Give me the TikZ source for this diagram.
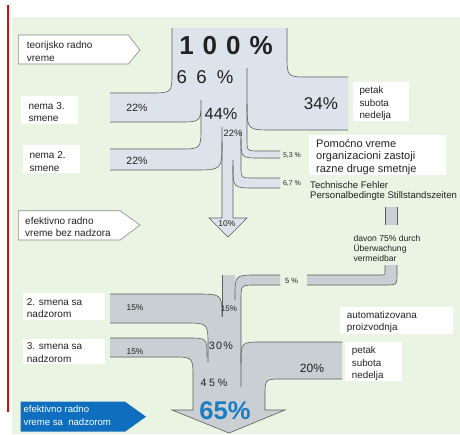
\documentclass[tikz,border=0pt]{standalone}
\usepackage{fontspec}
\setmainfont{Liberation Sans}
\definecolor{bggreen}{HTML}{E9F4E2}
\definecolor{lightflow}{HTML}{DDE3EB}
\definecolor{grayflow}{HTML}{C9CFD2}
\definecolor{edgecol}{HTML}{5A5F5F}
\definecolor{txt}{HTML}{222222}
\definecolor{bluebox}{HTML}{0F6FBE}
\definecolor{bluetxt}{HTML}{1C7CC4}
\definecolor{redline}{HTML}{D01010}
\definecolor{tagline}{HTML}{8A8A8A}
\tikzset{
  edge/.style={draw=edgecol, line width=0.6pt},
  lbl/.style={inner sep=0pt, text=txt, align=left, anchor=west, font=\fontsize{10}{12.4}\selectfont},
  pct/.style={inner sep=0pt, text=txt},
  wbox/.style={fill=white},
  tag/.style={draw=tagline, fill=white, line width=0.6pt},
}
\begin{document}
\begin{tikzpicture}[x=1pt,y=-1pt]
\useasboundingbox (0,0) rectangle (460,434);
\fill[white] (0,0) rectangle (460,434);
\fill[bggreen] (12,17) rectangle (460,434);
\draw[redline, line width=2pt] (8,5) -- (8,412);

% ---------- upper flow ----------
\fill[lightflow] (172,28) -- (287,28) -- (287,55) .. controls (287,77) .. (309,77) -- (348,77) -- (348,130) -- (273,130) .. controls (247,130) .. (247,104) -- (247,139) .. controls (247,151) .. (259,151) -- (280,151) -- (280,158) -- (260,158) .. controls (241,158) .. (241,139) -- (241,166) .. controls (241,178) .. (253,178) -- (280,178) -- (280,188) -- (255,188) .. controls (233,188) .. (233,166) -- (233,218) -- (247,218) -- (228,237) -- (209,218) -- (222,218) -- (222,142) .. controls (222,170) .. (194,170) -- (110,170) -- (110,149) -- (179,149) .. controls (201,149) .. (201,127) -- (201,100) .. controls (201,122) .. (179,122) -- (110,122) -- (110,93) -- (150,93) .. controls (172,93) .. (172,71) -- cycle;

\draw[edge] (172,28) -- (172,71) .. controls (172,93) .. (150,93) -- (110,93);
\draw[edge] (110,122) -- (179,122) .. controls (201,122) .. (201,100) -- (201,127) .. controls (201,149) .. (179,149) -- (110,149);
\draw[edge] (110,170) -- (194,170) .. controls (222,170) .. (222,142);
\draw[edge] (222,127) -- (222,218) -- (209,218) -- (228,237) -- (247,218) -- (233,218) -- (233,160);
\draw[edge] (233,166) .. controls (233,188) .. (255,188) -- (280,188);
\draw[edge] (241,130) -- (241,166) .. controls (241,178) .. (253,178) -- (280,178);
\draw[edge] (241,139) .. controls (241,158) .. (260,158) -- (280,158);
\draw[edge] (247,68) -- (247,139) .. controls (247,151) .. (259,151) -- (280,151);
\draw[edge] (247,104) .. controls (247,130) .. (273,130) -- (348,130);
\draw[edge] (287,28) -- (287,55) .. controls (287,77) .. (309,77) -- (348,77);

% ---------- lower flow ----------
\fill[grayflow] (222,275) -- (235,275) -- (235,297) .. controls (235,275) .. (257,275) -- (280,275) -- (280,285) -- (256,285) .. controls (241,285) .. (241,300) -- (241,363) .. controls (241,342) .. (262,342) -- (342,342) -- (342,379) -- (282,379) .. controls (265,379) .. (265,396) -- (265,410) -- (285,410) -- (229,433) -- (172,410) -- (193,410) -- (193,378) .. controls (193,357) .. (172,357) -- (110,357) -- (110,338) -- (188,338) .. controls (207,338) .. (207,357) -- (208,346) .. controls (208,323) .. (185,323) -- (110,323) -- (110,294) -- (195,294) .. controls (222,294) .. (222,316) -- cycle;

\draw[edge] (280,275) -- (257,275) .. controls (235,275) .. (235,297) -- (235,300);
\draw[edge] (280,285) -- (256,285) .. controls (241,285) .. (241,300) -- (241,387);
\draw[edge] (342,342) -- (262,342) .. controls (241,342) .. (241,363);
\draw[edge] (342,379) -- (282,379) .. controls (265,379) .. (265,396) -- (265,410) -- (285,410) -- (229,433) -- (172,410) -- (193,410) -- (193,378) .. controls (193,357) .. (172,357) -- (110,357);
\draw[edge] (110,338) -- (188,338) .. controls (207,338) .. (207,357);
\draw[edge] (110,323) -- (185,323) .. controls (208,323) .. (208,346) -- (208,362);
\draw[edge] (110,294) -- (195,294) .. controls (222,294) .. (222,316);
\draw[edge] (222,275) -- (222,317);

% 5% band on the right
\fill[grayflow] (385,207) rectangle (397,225);
\draw[edge] (385,207) -- (385,225) (397,207) -- (397,225);
\fill[grayflow] (385,265) -- (385,270) .. controls (385,275) .. (380,275) -- (307,275) -- (307,285) -- (385,285) .. controls (397,285) .. (397,273) -- (397,265) -- cycle;
\draw[edge] (385,265) -- (385,270) .. controls (385,275) .. (380,275) -- (307,275);
\draw[edge] (307,285) -- (385,285) .. controls (397,285) .. (397,273) -- (397,265);

% ---------- percentages ----------
\node[pct, font=\fontsize{26}{26}\bfseries\selectfont] (p100) at (226,46) {1\hspace{9pt}0\hspace{9pt}0\hspace{9pt}\%};
\node[pct, font=\fontsize{18.6}{18.6}\selectfont] (p66) at (205,76.7) {6\hspace{9.5pt}6\hspace{10pt}\%};
\node[pct, font=\fontsize{16.3}{16.3}\selectfont] (p44) at (221,114) {44\%};
\node[pct, font=\fontsize{9.3}{9.3}\selectfont] (p22c) at (233,133.5) {22\%};
\node[pct, font=\fontsize{17}{17}\selectfont] (p34) at (321,104) {34\%};
\node[pct, font=\fontsize{10.5}{10.5}\selectfont] (p22a) at (137,107.5) {22\%};
\node[pct, font=\fontsize{10.5}{10.5}\selectfont] (p22b) at (137,160.5) {22\%};
\node[pct, font=\fontsize{7}{7}\selectfont] (p53) at (292,155) {5,3 \%};
\node[pct, font=\fontsize{7}{7}\selectfont] (p67) at (292,183.7) {6,7 \%};
\node[pct, font=\fontsize{8.5}{8.5}\selectfont] (p10) at (227,223.5) {10\%};
\node[pct, font=\fontsize{7.5}{7.5}\selectfont] (p5) at (291.5,280.5) {5 \%};
\node[pct, font=\fontsize{8.4}{8.4}\selectfont] (p15a) at (135,307.5) {15\%};
\node[pct, font=\fontsize{8.4}{8.4}\selectfont] (p15b) at (135,351.5) {15\%};
\node[pct, font=\fontsize{8}{8}\selectfont] (p15c) at (229,309) {15\%};
\node[pct, font=\fontsize{10.7}{10.7}\selectfont] (p30) at (221,345.5) {3\hspace{1.3pt}0\hspace{1.3pt}\%};
\node[pct, font=\fontsize{10.7}{10.7}\selectfont] (p45) at (214,383) {4\hspace{2.7pt}5\hspace{2.7pt}\%};
\node[pct, font=\fontsize{12}{12}\selectfont] (p20) at (312,368) {20\%};
\node[pct, text=bluetxt, font=\fontsize{25.6}{25.6}\bfseries\selectfont] (p65) at (225,411) {65\%};

% ---------- left tags ----------
\draw[tag] (18.3,35) -- (128.3,35) -- (140,50) -- (128.3,64) -- (18.3,64) -- cycle;
\node[lbl] (t1) at (26.7,51.4) {teorijsko radno\\vreme};
\draw[tag] (18.3,210.7) -- (120,210.7) -- (140,225) -- (120,240) -- (18.3,240) -- cycle;
\node[lbl] (t2) at (25,226.8) {efektivno radno\\vreme bez nadzora};
\fill[bluebox] (20.7,401.7) -- (125,401.7) -- (146,416.7) -- (125,431.7) -- (20.7,431.7) -- cycle;
\node[lbl, text=white, font=\fontsize{9.6}{13.3}\selectfont] (t3) at (23.3,415.8) {efektivno radno\\vreme sa\ \ nadzorom};

\fill[wbox] (21,96) rectangle (77.7,124);
\node[lbl] (b1) at (28.3,112.3) {nema 3.\\smene};
\fill[wbox] (22.7,145) rectangle (80,172.7);
\node[lbl] (b2) at (29.3,161.5) {nema 2.\\smene};
\fill[wbox] (23.3,292.7) rectangle (105,320);
\node[lbl] (b3) at (26.7,308) {2. smena sa\\nadzorom};
\fill[wbox] (23.3,339.3) rectangle (105,364);
\node[lbl] (b4) at (26.7,352.7) {3. smena sa\\nadzorom};

% ---------- right texts ----------
\fill[wbox] (353.3,81.7) rectangle (409,121);
\node[lbl, font=\fontsize{9.8}{12.5}\selectfont] (r1) at (359.3,103.5) {petak\\subota\\nedelja};
\fill[wbox] (308.5,135) rectangle (446,175);
\node[lbl, font=\fontsize{11}{12.6}\selectfont] (r2) at (316,157) {Pomoćno vreme\\organizacioni zastoji\\razne druge smetnje};
\node[lbl, font=\fontsize{9.6}{10.6}\selectfont] (r3) at (310,191) {Technische Fehler\\Personalbedingte Stillstandszeiten};
\node[lbl, font=\fontsize{8.6}{10}\selectfont] (r4) at (353.3,248.5) {davon 75\% durch\\Überwachung\\vermeidbar};
\fill[wbox] (340,307.3) rectangle (452.7,334);
\node[lbl, font=\fontsize{9.9}{12.2}\selectfont] (r5) at (346.7,322) {automatizovana\\proizvodnja};
\fill[wbox] (345,341.7) rectangle (401.7,380.7);
\node[lbl, font=\fontsize{9.8}{12.3}\selectfont] (r6) at (351.7,363.5) {petak\\subota\\nedelja};
\end{tikzpicture}
\end{document}
